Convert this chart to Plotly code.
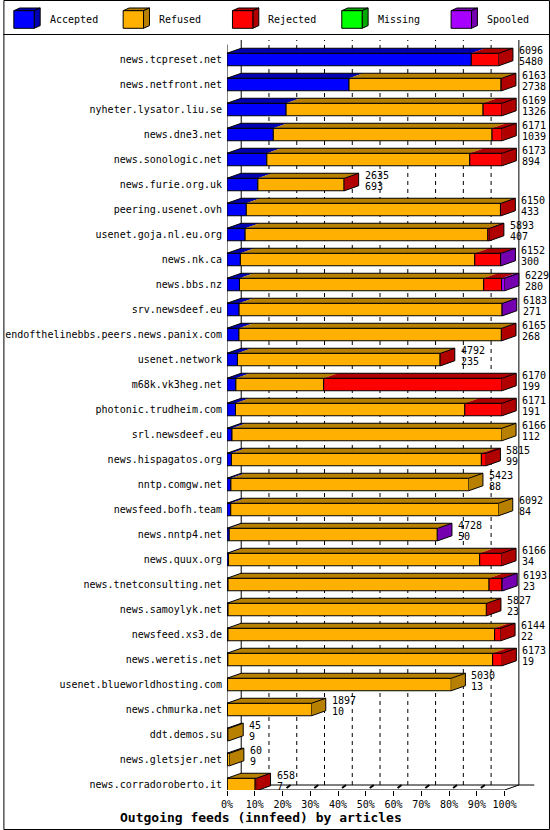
import plotly.graph_objects as go

# innfeed outgoing feeds, articles per peer
names = [
    "news.tcpreset.net", "news.netfront.net", "nyheter.lysator.liu.se", "news.dne3.net",
    "news.sonologic.net", "news.furie.org.uk", "peering.usenet.ovh", "usenet.goja.nl.eu.org",
    "news.nk.ca", "news.bbs.nz", "srv.newsdeef.eu", "endofthelinebbs.peers.news.panix.com",
    "usenet.network", "m68k.vk3heg.net", "photonic.trudheim.com", "srl.newsdeef.eu",
    "news.hispagatos.org", "nntp.comgw.net", "newsfeed.bofh.team", "news.nntp4.net",
    "news.quux.org", "news.tnetconsulting.net", "news.samoylyk.net", "newsfeed.xs3.de",
    "news.weretis.net", "usenet.blueworldhosting.com", "news.chmurka.net", "ddt.demos.su",
    "news.gletsjer.net", "news.corradoroberto.it",
]
totals = [6096, 6163, 6169, 6171, 6173, 2635, 6150, 5893, 6152, 6229, 6183, 6165, 4792, 6170, 6171,
          6166, 5815, 5423, 6092, 4728, 6166, 6193, 5827, 6144, 6173, 5030, 1897, 45, 60, 658]
accepted = [5480, 2738, 1326, 1039, 894, 693, 433, 407, 300, 280, 271, 268, 235, 199, 191,
            112, 99, 88, 84, 50, 34, 23, 23, 22, 19, 13, 10, 9, 9, 7]
refused = [0, 3410, 4419, 4907, 4553, 1934, 5702, 5446, 5258, 5479, 5900, 5887, 4545, 1970, 5144,
           6054, 5608, 5335, 6008, 4668, 5635, 5856, 5796, 5982, 5940, 5017, 1887, 36, 51, 624]
rejected = [616, 15, 424, 225, 726, 8, 15, 40, 580, 401, 0, 10, 12, 4001, 836,
            0, 108, 0, 0, 0, 497, 290, 8, 140, 214, 0, 0, 0, 0, 27]
missing = [0, 0, 0, 0, 0, 0, 0, 0, 0, 0, 0, 0, 0, 0, 0,
           0, 0, 0, 0, 0, 0, 0, 0, 0, 0, 0, 0, 0, 0, 0]
spooled = [0, 0, 0, 0, 0, 0, 0, 0, 14, 69, 12, 0, 0, 0, 0,
           0, 0, 0, 0, 10, 0, 24, 0, 0, 0, 0, 0, 0, 0, 0]
x_ticks = [0, 10, 20, 30, 40, 50, 60, 70, 80, 90, 100]
tick_labels = ["0%", "10%", "20%", "30%", "40%", "50%", "60%", "70%", "80%", "90%", "100%"]

series = [
    ("Accepted", accepted, "#0000ff", "#0000b0"),
    ("Refused", refused, "#ffb000", "#b88000"),
    ("Rejected", rejected, "#ff0000", "#b00000"),
    ("Missing", missing, "#00ff00", "#00a800"),
    ("Spooled", spooled, "#a800ff", "#7400b0"),
]

FONT = "DejaVu Sans Mono"
L, R, T, B = 225, 5, 38, 40
W, H = 550 - L - R, 830 - T - B
PX = 2.794          # pixels per percent
ROW = 25.0          # pixels per row
x_max = W / PX
y_top = -(59.5 - T) / ROW
y_bot = y_top + H / ROW
DX, DY = 14.3 / PX, 5 / ROW   # 3d depth
HALF = 0.25


def yv(py):
    return y_top + (py - T) / ROW


def pxx(px):
    return (px - L) / W


def pxy(py):
    return (830 - B - py) / H


scale = 100.0 / max(totals)
rows = list(range(len(names)))

fig = go.Figure()

# front faces
cum = [0.0] * len(names)
last = [None] * len(names)
ends = {}
for name, vals, col, dark in series:
    xs, bases = [], []
    for i, v in enumerate(vals):
        if v > 0:
            xs.append(v * scale)
            bases.append(cum[i])
            ends.setdefault(name, {})[i] = (cum[i], cum[i] + v * scale)
            cum[i] += v * scale
            last[i] = dark
        else:
            xs.append(None)
            bases.append(None)
    fig.add_trace(go.Bar(y=rows, x=xs, base=bases, orientation="h", width=2 * HALF,
                         marker=dict(color=col, line=dict(color="black", width=1)),
                         showlegend=False, hoverinfo="skip"))

# top and side faces
for name, vals, col, dark in series:
    px_, py_ = [], []
    for i, (x0, x1) in ends.get(name, {}).items():
        yt = i - HALF
        px_ += [x0, x1, x1 + DX, x0 + DX, x0, None]
        py_ += [yt, yt, yt - DY, yt - DY, yt, None]
    for i in rows:
        if last[i] == dark:
            x1 = cum[i]
            px_ += [x1, x1 + DX, x1 + DX, x1, x1, None]
            py_ += [i - HALF, i - HALF - DY, i + HALF - DY, i + HALF, i - HALF, None]
    if px_:
        fig.add_trace(go.Scatter(x=px_, y=py_, mode="lines", fill="toself", fillcolor=dark,
                                 line=dict(width=0), showlegend=False, hoverinfo="skip"))

ox, oy = [], []
for i in rows:
    x1 = cum[i]
    ox += [0, x1, x1 + DX, DX, 0, None, x1 + DX, x1 + DX, x1, None]
    oy += [i - HALF, i - HALF, i - HALF - DY, i - HALF - DY, i - HALF, None,
           i - HALF - DY, i + HALF - DY, i + HALF, None]
fig.add_trace(go.Scatter(x=ox, y=oy, mode="lines", line=dict(color="black", width=1),
                         showlegend=False, hoverinfo="skip"))

# value labels
for i in rows:
    for txt, ys in ((str(totals[i]), 9), (str(accepted[i]), -1.5)):
        fig.add_annotation(x=cum[i] + DX, y=i, text=txt, showarrow=False, xanchor="left",
                           yanchor="middle", xshift=4, yshift=ys,
                           font=dict(family=FONT, size=10, color="black"))

shapes = []
line = dict(color="black", width=1)
for t in x_ticks[1:-1]:
    shapes.append(dict(type="line", x0=t + DX, x1=t + DX, y0=y_bot - DY, y1=yv(40),
                       line=dict(color="black", width=1, dash="4px,4px"), layer="below"))
for t in x_ticks[:-1]:
    shapes.append(dict(type="line", x0=t + 4 / PX, x1=t + 8 / PX, y0=y_bot - 2 / ROW,
                       y1=y_bot - DY, line=dict(color="black", width=2), layer="below"))
shapes += [
    dict(type="line", x0=DX, x1=DX, y0=y_bot - DY, y1=yv(40), line=line, layer="below"),
    dict(type="line", x0=100 + DX, x1=100 + DX, y0=y_bot - DY, y1=yv(40), line=line, layer="below"),
    dict(type="line", x0=0, x1=0, y0=y_bot, y1=yv(44.5), line=line, layer="below"),
    dict(type="line", x0=0, x1=100, y0=y_bot, y1=y_bot, line=line, layer="below"),
    dict(type="line", x0=100, x1=100 + DX, y0=y_bot, y1=y_bot - DY, line=line, layer="below"),
    dict(type="line", x0=DX, x1=100 + DX + 15.5 / PX, y0=y_bot - DY, y1=y_bot - DY, line=line,
         layer="below"),
]

# frame and legend
shapes.append(dict(type="rect", xref="paper", yref="paper", x0=pxx(0.5), x1=pxx(549.5),
                   y0=pxy(829.5), y1=pxy(0.5), line=line))
shapes.append(dict(type="line", xref="paper", yref="paper", x0=pxx(0), x1=pxx(550),
                   y0=pxy(34.5), y1=pxy(34.5), line=line))


def path(pts):
    return "M " + " L ".join(f"{pxx(a)},{pxy(b)}" for a, b in pts) + " Z"


for k, (name, vals, col, dark) in enumerate(series):
    x0 = 10.5 + 110 * k
    shapes.append(dict(type="path", xref="paper", yref="paper", fillcolor=dark, line=line,
                       path=path([(x0, 10.7), (x0 + 6, 8), (x0 + 26.5, 8), (x0 + 20.5, 10.7)])))
    shapes.append(dict(type="path", xref="paper", yref="paper", fillcolor=dark, line=line,
                       path=path([(x0 + 20.5, 10.7), (x0 + 26.5, 8), (x0 + 26.5, 25.6),
                                  (x0 + 20.5, 28.3)])))
    shapes.append(dict(type="rect", xref="paper", yref="paper", fillcolor=col, line=line,
                       x0=pxx(x0), x1=pxx(x0 + 20.5), y0=pxy(28.3), y1=pxy(10.7)))
    fig.add_annotation(xref="paper", yref="paper", x=pxx(x0 + 34), y=pxy(20), text=name,
                       showarrow=False, xanchor="left", yanchor="middle",
                       font=dict(family=FONT, size=10, color="black"))

fig.add_annotation(xref="paper", yref="paper", x=pxx(259), y=pxy(817),
                   text="<b>Outgoing feeds (innfeed) by articles</b>", showarrow=False,
                   xanchor="center", yanchor="middle",
                   font=dict(family=FONT, size=13, color="black"))

fig.update_layout(
    width=550, height=830, barmode="overlay", shapes=shapes,
    margin=dict(l=L, r=R, t=T, b=B, pad=0),
    plot_bgcolor="white", paper_bgcolor="white",
    xaxis=dict(range=[0, x_max], tickvals=x_ticks, ticktext=tick_labels, ticks="outside",
               ticklen=5, tickcolor="black", showgrid=False, zeroline=False, showline=False,
               tickfont=dict(family=FONT, size=10, color="black")),
    yaxis=dict(range=[y_bot, y_top], tickvals=rows, ticktext=names, ticks="", showgrid=False,
               zeroline=False, showline=False, ticklabelstandoff=4,
               tickfont=dict(family=FONT, size=10, color="black")),
)

fig.write_html("out.html", config={"displayModeBar": False},
               post_script="document.body.style.margin='0';"
                           "document.body.style.overflow='hidden';")
